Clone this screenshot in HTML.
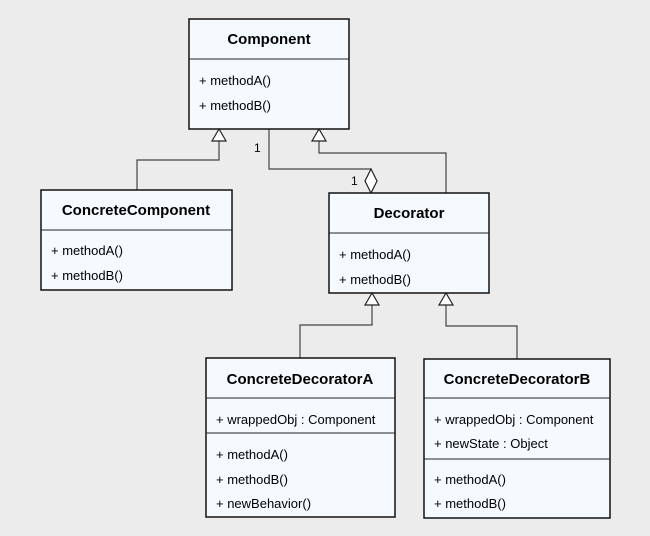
<!DOCTYPE html>
<html><head><meta charset="utf-8"><style>
html,body{margin:0;padding:0;background:#ececec;}
svg{display:block;}
text{font-family:"Liberation Sans",sans-serif;fill:#000;}
.t{font-size:15px;font-weight:bold;text-anchor:middle;}
.m{font-size:13px;}
.box{fill:#f5faff;stroke:#111;stroke-width:1.5;}
.div{stroke:#222;stroke-width:1;}
.ln{fill:none;stroke:#444;stroke-width:1.2;}
.tri{fill:#fff;stroke:#222;stroke-width:1.2;}
</style></head><body>
<svg width="650" height="536" viewBox="0 0 650 536">
<rect width="650" height="536" fill="#ececec"/>
<!-- connectors -->
<polyline class="ln" points="219,141 219,160 137,160 137,190"/>
<polyline class="ln" points="269,129 269,169 371,169"/>
<polyline class="ln" points="319,141 319,153 446,153 446,193"/>
<polyline class="ln" points="372,305 372,325 300,325 300,358"/>
<polyline class="ln" points="446,305 446,326 517,326 517,359"/>
<!-- Component -->
<rect class="box" x="189" y="19" width="160" height="110"/>
<line class="div" x1="189" y1="59" x2="349" y2="59"/>
<text class="t" x="269" y="44">Component</text>
<text class="m" x="199" y="85">+ methodA()</text>
<text class="m" x="199" y="110">+ methodB()</text>
<polygon class="tri" points="219,129 212,141 226,141"/>
<polygon class="tri" points="319,129 312,141 326,141"/>
<text class="m" x="254" y="152" style="font-size:12px">1</text>
<text class="m" x="351" y="185" style="font-size:12px">1</text>
<polygon class="tri" points="371,169 377,181 371,193 365,181"/>
<!-- ConcreteComponent -->
<rect class="box" x="41" y="190" width="191" height="100"/>
<line class="div" x1="41" y1="230" x2="232" y2="230"/>
<text class="t" x="136" y="215">ConcreteComponent</text>
<text class="m" x="51" y="255">+ methodA()</text>
<text class="m" x="51" y="280">+ methodB()</text>
<!-- Decorator -->
<rect class="box" x="329" y="193" width="160" height="100"/>
<line class="div" x1="329" y1="233" x2="489" y2="233"/>
<text class="t" x="409" y="218">Decorator</text>
<text class="m" x="339" y="259">+ methodA()</text>
<text class="m" x="339" y="284">+ methodB()</text>
<polygon class="tri" points="372,293 365,305 379,305"/>
<polygon class="tri" points="446,293 439,305 453,305"/>
<!-- ConcreteDecoratorA -->
<rect class="box" x="206" y="358" width="189" height="159"/>
<line class="div" x1="206" y1="398" x2="395" y2="398"/>
<line class="div" x1="206" y1="433" x2="395" y2="433"/>
<text class="t" x="300" y="384">ConcreteDecoratorA</text>
<text class="m" x="216" y="424">+ wrappedObj : Component</text>
<text class="m" x="216" y="459">+ methodA()</text>
<text class="m" x="216" y="484">+ methodB()</text>
<text class="m" x="216" y="508">+ newBehavior()</text>
<!-- ConcreteDecoratorB -->
<rect class="box" x="424" y="359" width="186" height="159"/>
<line class="div" x1="424" y1="398" x2="610" y2="398"/>
<line class="div" x1="424" y1="459" x2="610" y2="459"/>
<text class="t" x="517" y="384">ConcreteDecoratorB</text>
<text class="m" x="434" y="424">+ wrappedObj : Component</text>
<text class="m" x="434" y="448">+ newState : Object</text>
<text class="m" x="434" y="484">+ methodA()</text>
<text class="m" x="434" y="508">+ methodB()</text>
</svg>
</body></html>
